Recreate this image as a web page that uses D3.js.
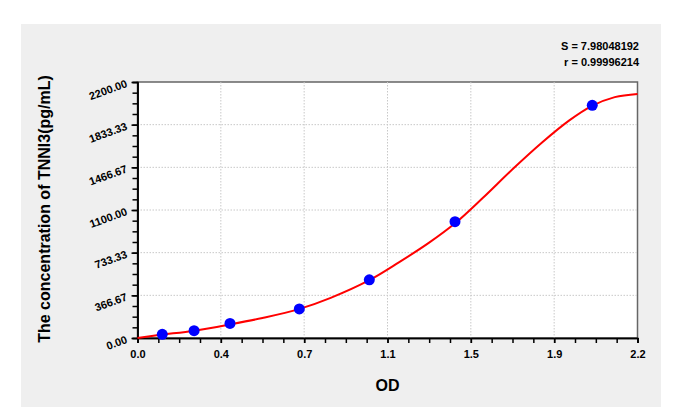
<!DOCTYPE html>
<meta charset="utf-8">
<style type="text/css">
    body { margin: 0; background: #fff; }
    text { font-family: "Liberation Sans", Arial, sans-serif; font-weight: bold; fill: #000; }
    .grid line { stroke: #c8c8c8; stroke-dasharray: 1.5,1.5; }
    .axis path, .axis line { stroke: #000; stroke-width: 1.5; }
    .axis text { font-size: 11px; }
    .fit { fill: none; stroke: #ff0000; stroke-width: 2; }
    .dot { fill: #0000ff; }
</style>
<body>
</body>
<script src="https://d3js.org/d3.v7.min.js"></script>
<script>

    // standard points (OD, concentration)
    var odValues = [0.109, 0.249, 0.407, 0.712, 1.020, 1.397, 2.001];
    var concValues = [31.25, 62.5, 125, 250, 500, 1000, 2000];

    // fitted curve
    var curveOD = [0, 0.1, 0.25, 0.41, 0.55, 0.71, 0.85, 1.02, 1.15, 1.28, 1.40, 1.52, 1.65, 1.78, 1.90, 2.0, 2.1, 2.2];
    var curveConc = [0, 27, 63, 118, 172, 248, 345, 497, 650, 815, 990, 1205, 1450, 1680, 1870, 1995, 2070, 2097];

    var xTickLabels = ["0.0", "0.4", "0.7", "1.1", "1.5", "1.9", "2.2"];
    var yTickLabels = ["0.00", "366.67", "733.33", "1100.00", "1466.67", "1833.33", "2200.00"];
    var statLines = ["S = 7.98048192", "r = 0.99996214"];

    var xMax = 2.2, yMax = 2200;

    var svg = d3.select("body").append("svg")
        .attr("width", 683)
        .attr("height", 417);

    // grey panel behind everything
    svg.append("rect")
        .attr("x", 21).attr("y", 24)
        .attr("width", 640).attr("height", 383)
        .attr("fill", "#efefef");

    var plot = {left: 137.5, right: 637.5, top: 82, bottom: 338};

    var xScale = d3.scaleLinear().domain([0, xMax]).range([plot.left, plot.right]);
    var yScale = d3.scaleLinear().domain([0, yMax]).range([plot.bottom, plot.top]);

    var xMajor = xTickLabels.map(function(d, i) { return i * xMax / (xTickLabels.length - 1); });
    var yMajor = yTickLabels.map(function(d, i) { return i * yMax / (yTickLabels.length - 1); });
    var xMinor = d3.range((xTickLabels.length - 1) * 4 + 1).map(function(i) { return i * xMax / ((xTickLabels.length - 1) * 4); });
    var yMinor = d3.range((yTickLabels.length - 1) * 4 + 1).map(function(i) { return i * yMax / ((yTickLabels.length - 1) * 4); });

    // plot background + frame
    svg.append("rect")
        .attr("x", plot.left).attr("y", plot.top)
        .attr("width", plot.right - plot.left).attr("height", plot.bottom - plot.top)
        .attr("fill", "#fff")
        .attr("stroke", "#666").attr("stroke-width", 1.5);

    // gridlines
    var grid = svg.append("g").attr("class", "grid");
    grid.selectAll(".vg")
        .data(xMajor.slice(1, -1))
        .enter().append("line")
        .attr("x1", function(d) { return xScale(d); })
        .attr("x2", function(d) { return xScale(d); })
        .attr("y1", plot.top).attr("y2", plot.bottom);
    grid.selectAll(".hg")
        .data(yMajor.slice(1, -1))
        .enter().append("line")
        .attr("y1", function(d) { return yScale(d); })
        .attr("y2", function(d) { return yScale(d); })
        .attr("x1", plot.left).attr("x2", plot.right);

    // x axis
    svg.append("g")
        .attr("class", "axis")
        .attr("transform", "translate(0," + plot.bottom + ")")
        .call(d3.axisBottom(xScale).tickValues(xMinor).tickSize(5).tickFormat(""));
    var xAx = svg.append("g")
        .attr("class", "axis")
        .attr("transform", "translate(0," + plot.bottom + ")")
        .call(d3.axisBottom(xScale).tickValues(xMajor).tickSize(5).tickSizeOuter(0)
            .tickFormat(function(d, i) { return xTickLabels[i]; }));
    xAx.selectAll("text").attr("y", 12);

    // y axis
    svg.append("g")
        .attr("class", "axis")
        .attr("transform", "translate(" + plot.left + ",0)")
        .call(d3.axisLeft(yScale).tickValues(yMinor).tickSize(5).tickFormat(""));
    var yAx = svg.append("g")
        .attr("class", "axis")
        .attr("transform", "translate(" + plot.left + ",0)")
        .call(d3.axisLeft(yScale).tickValues(yMajor).tickSize(6).tickSizeOuter(0)
            .tickFormat(function(d, i) { return yTickLabels[i]; }));
    yAx.selectAll("text")
        .attr("x", -11).attr("dy", "0.4em")
        .attr("transform", "rotate(-20,-11,0)");

    // fitted curve
    var line = d3.line()
        .x(function(d) { return xScale(d[0]); })
        .y(function(d) { return yScale(d[1]); })
        .curve(d3.curveCatmullRom.alpha(0.5));

    svg.append("path")
        .datum(d3.zip(curveOD, curveConc))
        .attr("class", "fit")
        .attr("d", line);

    // standards
    svg.selectAll(".dot")
        .data(d3.zip(odValues, concValues))
        .enter().append("circle")
        .attr("class", "dot")
        .attr("cx", function(d) { return xScale(d[0]); })
        .attr("cy", function(d) { return yScale(d[1]); })
        .attr("r", 5.5);

    // axis titles
    svg.append("text")
        .attr("x", (plot.left + plot.right) / 2)
        .attr("y", 391)
        .attr("text-anchor", "middle")
        .style("font-size", "16px")
        .text("OD");

    svg.append("text")
        .attr("transform", "translate(50," + 209 + ") rotate(-90)")
        .attr("text-anchor", "middle")
        .style("font-size", "16px")
        .text("The concentration of TNNI3(pg/mL)");

    // fit statistics
    svg.selectAll(".stat")
        .data(statLines)
        .enter().append("text")
        .attr("x", 639)
        .attr("y", function(d, i) { return 50 + i * 16; })
        .attr("text-anchor", "end")
        .style("font-size", "11px")
        .text(function(d) { return d; });

</script>
